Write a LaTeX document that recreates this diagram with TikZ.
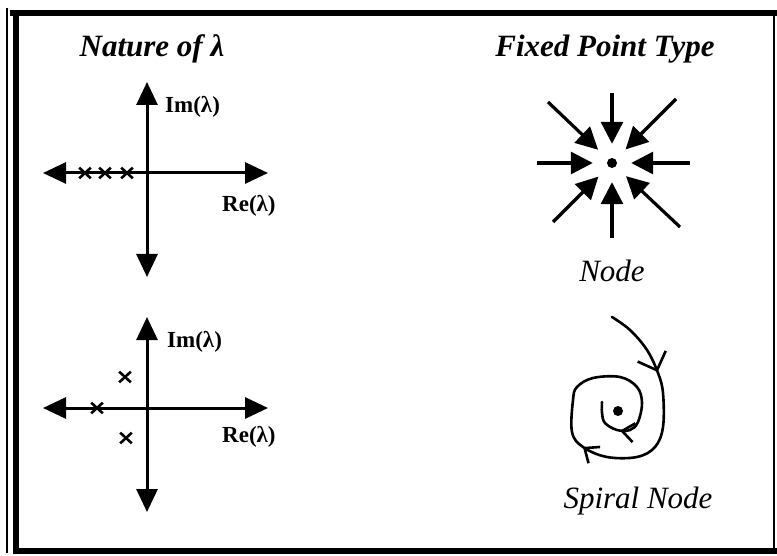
\documentclass[tikz,border=0pt]{standalone}
\usepackage{fontspec}
\setmainfont{Liberation Serif}
\usepackage{tikz}
\usetikzlibrary{arrows.meta,calc,shapes.misc,decorations.markings}
\tikzset{
  axarrow/.style={line width=3pt,{Triangle[length=23pt,width=21pt]}-{Triangle[length=23pt,width=21pt]}},
  inarrow/.style={line width=3.2pt,-{Triangle[length=22pt,width=22pt]},shorten >=14pt},
  ptmark/.style={cross out,draw,line width=2.6pt,minimum width=9pt,minimum height=8pt,inner sep=0pt},
  fixdot/.style={circle,fill=black,inner sep=0pt,minimum size=10pt},
  axlbl/.style={font=\fontsize{23}{26}\selectfont\bfseries,anchor=base west,inner sep=0pt},
  hdTitle/.style={font=\fontsize{31}{34}\selectfont\bfseries\itshape,anchor=base,inner sep=0pt},
  typeLbl/.style={font=\fontsize{31}{34}\selectfont\itshape,anchor=base,inner sep=0pt},
  spiral/.style={line width=2.6pt,line cap=round,line join=round},
  frm/.style={line width=6pt},
}
\begin{document}
\begin{tikzpicture}[x=1pt,y=-1pt]
\useasboundingbox (0,0) rectangle (777,556);
% frame
\draw[frm] (10,13) -- (777,13);
\draw[frm] (16,13) -- (16,551) -- (777,551);
\draw[line width=1.5pt] (7,8) -- (7,553);
\draw[line width=1.5pt] (774,13) -- (774,551);

% headings
\node[hdTitle] (ntitle) at (152,57) {Nature of λ};
\node[hdTitle] (ftitle) at (605,57) {Fixed Point Type};

% real eigenvalues
\coordinate (o1) at (147,173);
\draw[axarrow] ([xshift=-104pt]o1) -- ([xshift=121pt]o1);
\draw[axarrow] ([yshift=91pt]o1) -- ([yshift=-104pt]o1);
\node[axlbl] (im1) at (165,113) {Im(λ)};
\node[axlbl] (re1) at (222,212) {Re(λ)};
\node[ptmark] (r1) at (85,173) {};
\node[ptmark] (r2) at (105,173) {};
\node[ptmark] (r3) at (127,173) {};

% complex eigenvalues
\coordinate (o2) at (147,408);
\draw[axarrow] ([xshift=-104pt]o2) -- ([xshift=121pt]o2);
\draw[axarrow] ([yshift=91pt]o2) -- ([yshift=-104pt]o2);
\node[axlbl] (im2) at (167,347) {Im(λ)};
\node[axlbl] (re2) at (222,442) {Re(λ)};
\node[ptmark] (c1) at (125,377) {};
\node[ptmark] (c2) at (97,408) {};
\node[ptmark] (c3) at (126,438) {};

% node
\node[fixdot] (fp) at (612,163) {};
\coordinate (aN)  at (612,93);
\coordinate (aS)  at (612,238);
\coordinate (aW)  at (537,163);
\coordinate (aE)  at (690,163);
\coordinate (aNW) at (548,102);
\coordinate (aNE) at (676,99);
\coordinate (aSW) at (553,222);
\coordinate (aSE) at (680,227);
\draw[inarrow] (aN) -- (fp);
\draw[inarrow] (aS) -- (fp);
\draw[inarrow] (aW) -- (fp);
\draw[inarrow] (aE) -- (fp);
\draw[inarrow] (aNW) -- (fp);
\draw[inarrow] (aNE) -- (fp);
\draw[inarrow] (aSW) -- (fp);
\draw[inarrow] (aSE) -- (fp);
\node[typeLbl] (nlbl) at (612,282) {Node};

% spiral node
\node[fixdot] (sp) at (618,411) {};
\draw[spiral,postaction={decorate},decoration={markings,
    mark=at position 0.16 with {\arrow{Straight Barb[length=15pt,width=30pt]}},
    mark=at position 0.50 with {\arrow{Straight Barb[length=12pt,width=20pt]}},
    mark=at position 0.915 with {\arrow{Straight Barb[length=12pt,width=19pt]}}}]
  plot[smooth,tension=0.6] coordinates {(612,317) (630,330) (647,350) (658,373)
    (663,393) (663,427) (655,447) (637,457) (607,457) (583,447) (572,432)
    (573,400) (577,387) (593,378) (620,377) (637,387) (642,403) (638,422)
    (630,430) (617,430) (605,423) (602,413) (602,402)};
\node[typeLbl] (slbl) at (638,508) {Spiral Node};
\end{tikzpicture}
\end{document}
